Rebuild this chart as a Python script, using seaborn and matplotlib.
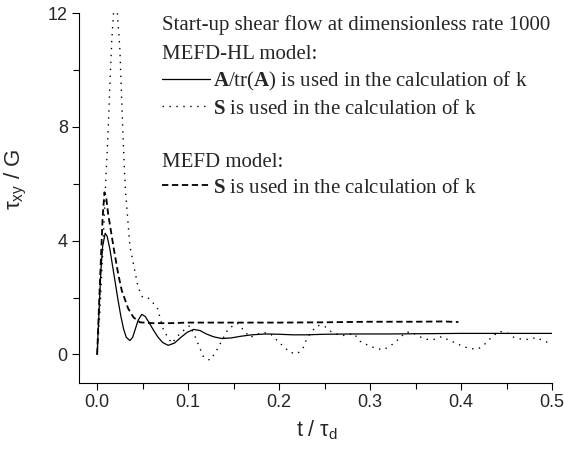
import matplotlib
matplotlib.use("Agg")
import matplotlib.pyplot as plt
import seaborn as sns
import pandas as pd
from matplotlib.ticker import MultipleLocator
from matplotlib.lines import Line2D

# MEFD-HL model, A/tr(A) used for k (solid)
t_hl_a = [0, 0.002, 0.004, 0.006, 0.0088, 0.011, 0.014, 0.017, 0.02, 0.023, 0.026, 0.029,
          0.032, 0.036, 0.039, 0.042, 0.045, 0.049, 0.053, 0.057, 0.062, 0.067, 0.072,
          0.078, 0.085, 0.092, 0.099, 0.106, 0.113, 0.12, 0.128, 0.137, 0.147, 0.158,
          0.17, 0.185, 0.2, 0.215, 0.23, 0.25, 0.28, 0.32, 0.36, 0.4, 0.45, 0.5]
tau_hl_a = [0, 1.5, 2.9, 3.8, 4.26, 4.15, 3.7, 3.1, 2.5, 1.9, 1.35, 0.9,
            0.6, 0.49, 0.6, 0.9, 1.2, 1.41, 1.33, 1.12, 0.85, 0.6, 0.42,
            0.32, 0.4, 0.6, 0.78, 0.88, 0.84, 0.72, 0.62, 0.56, 0.58, 0.64,
            0.69, 0.72, 0.71, 0.69, 0.69, 0.71, 0.72, 0.72, 0.73, 0.74, 0.74, 0.74]

# MEFD-HL model, S used for k (dotted)
t_hl_s = [0, 0.003, 0.006, 0.009, 0.012, 0.014, 0.016, 0.018, 0.02, 0.022, 0.025, 0.027,
          0.029, 0.031, 0.033, 0.036, 0.045, 0.05, 0.057, 0.066, 0.073, 0.082, 0.091,
          0.102, 0.108, 0.117, 0.124, 0.13, 0.139, 0.144, 0.154, 0.168, 0.181, 0.19,
          0.201, 0.212, 0.22, 0.226, 0.23, 0.235, 0.242, 0.25, 0.258, 0.267, 0.274,
          0.282, 0.29, 0.298, 0.307, 0.315, 0.323, 0.331, 0.339, 0.346, 0.354, 0.362,
          0.37, 0.379, 0.387, 0.395, 0.402, 0.411, 0.419, 0.427, 0.434, 0.442, 0.45,
          0.458, 0.467, 0.475, 0.483, 0.491, 0.5]
tau_hl_s = [0, 1.5, 3.5, 5.8, 7.8, 9.5, 11.0, 12.0, 12.2, 12.1, 10.7, 8.9,
            7.2, 5.8, 5.0, 3.8, 2.36, 2.0, 1.97, 1.65, 0.84, 0.39, 0.74,
            1.02, 0.6, -0.1, -0.2, 0.07, 0.6, 0.9, 1.1, 0.6, 0.77, 0.74,
            0.39, 0.07, 0.03, 0.2, 0.53, 0.78, 1.02, 0.99, 0.78, 0.67, 0.67,
            0.74, 0.43, 0.32, 0.2, 0.17, 0.32, 0.53, 0.78, 0.78, 0.63, 0.53,
            0.53, 0.63, 0.49, 0.39, 0.28, 0.2, 0.2, 0.39, 0.63, 0.81, 0.77,
            0.6, 0.53, 0.53, 0.6, 0.46, 0.39]

# MEFD model, S used for k (dashed)
t_mefd = [0, 0.003, 0.006, 0.008, 0.01, 0.012, 0.018, 0.023, 0.027, 0.034, 0.04, 0.047,
          0.06, 0.08, 0.1, 0.15, 0.2, 0.25, 0.3, 0.35, 0.38, 0.397]
tau_mefd = [0, 2.5, 4.8, 5.7, 5.5, 4.96, 3.77, 2.85, 2.25, 1.62, 1.3, 1.13,
            1.1, 1.1, 1.12, 1.12, 1.12, 1.13, 1.15, 1.15, 1.16, 1.14]

sns.set_style("ticks")
plt.rcParams['font.family'] = ['Liberation Sans', 'DejaVu Sans']
plt.rcParams['mathtext.fontset'] = 'custom'
plt.rcParams['mathtext.rm'] = 'Liberation Sans'
plt.rcParams['mathtext.it'] = 'Liberation Sans'
plt.rcParams['mathtext.bf'] = 'Liberation Serif:bold'

fig = plt.figure(figsize=(5.64, 4.51), dpi=100)
ax = fig.add_axes([0.140, 0.151, 0.839, 0.820])

df_a = pd.DataFrame({'t': t_hl_a, 'tau': tau_hl_a})
df_s = pd.DataFrame({'t': t_hl_s, 'tau': tau_hl_s})
df_m = pd.DataFrame({'t': t_mefd, 'tau': tau_mefd})

sns.lineplot(data=df_a, x='t', y='tau', ax=ax, color='black', linewidth=0.9, sort=False)
sns.lineplot(data=df_s, x='t', y='tau', ax=ax, color='black', linewidth=1.0,
             sort=False, linestyle=(0, (1, 4)))
sns.lineplot(data=df_m, x='t', y='tau', ax=ax, color='black', linewidth=1.3,
             sort=False, linestyle=(0, (3.5, 2)))

ax.set_xlim(-0.02, 0.5)
ax.set_ylim(-1, 12)
ax.xaxis.set_major_locator(MultipleLocator(0.1))
ax.xaxis.set_minor_locator(MultipleLocator(0.05))
ax.yaxis.set_major_locator(MultipleLocator(4))
ax.yaxis.set_minor_locator(MultipleLocator(2))
ax.tick_params(which='both', direction='out', length=5, width=0.8, color='black',
               labelsize=13, pad=3)
ax.tick_params(which='minor', length=4)
for s in ['top', 'right']:
    ax.spines[s].set_visible(False)
for s in ['left', 'bottom']:
    ax.spines[s].set_linewidth(0.8)
    ax.spines[s].set_color('black')

ax.set_xlabel(r't / $\tau_\mathregular{d}$', fontsize=15.5)
ax.xaxis.set_label_coords(0.503, -0.095)
ax.set_ylabel(r'$\tau_{xy}$ / G', fontsize=16)
ax.yaxis.set_label_coords(-0.105, 0.55)

serif = {'family': 'Liberation Serif', 'size': 15}
h1 = [Line2D([], [], color='black', linewidth=0.9),
      Line2D([], [], color='black', linewidth=1.0, linestyle=(0, (1, 4)))]
leg1 = ax.legend(h1, [r'$\mathbf{A}$/tr($\mathbf{A}$) is used in the calculation of k',
                      r'$\mathbf{S}$ is used in the calculation of k'],
                 title='Start-up shear flow at dimensionless rate 1000\nMEFD-HL model:',
                 title_fontproperties=serif, prop=serif, alignment='left',
                 loc='upper left', bbox_to_anchor=(0.175, 0.995), frameon=False,
                 borderpad=0, borderaxespad=0, handlelength=2.3, handletextpad=0.15,
                 labelspacing=0.3)
leg1.get_title().set_linespacing(1.7)
ax.add_artist(leg1)
h2 = [Line2D([], [], color='black', linewidth=1.3, linestyle=(0, (3.5, 2)))]
ax.legend(h2, [r'$\mathbf{S}$ is used in the calculation of k'],
          title='MEFD model:', title_fontproperties=serif, prop=serif, alignment='left',
          loc='upper left', bbox_to_anchor=(0.175, 0.622), frameon=False,
          borderpad=0, borderaxespad=0, handlelength=2.3, handletextpad=0.15,
          labelspacing=0.3)

fig.savefig('out.png', dpi=100)
